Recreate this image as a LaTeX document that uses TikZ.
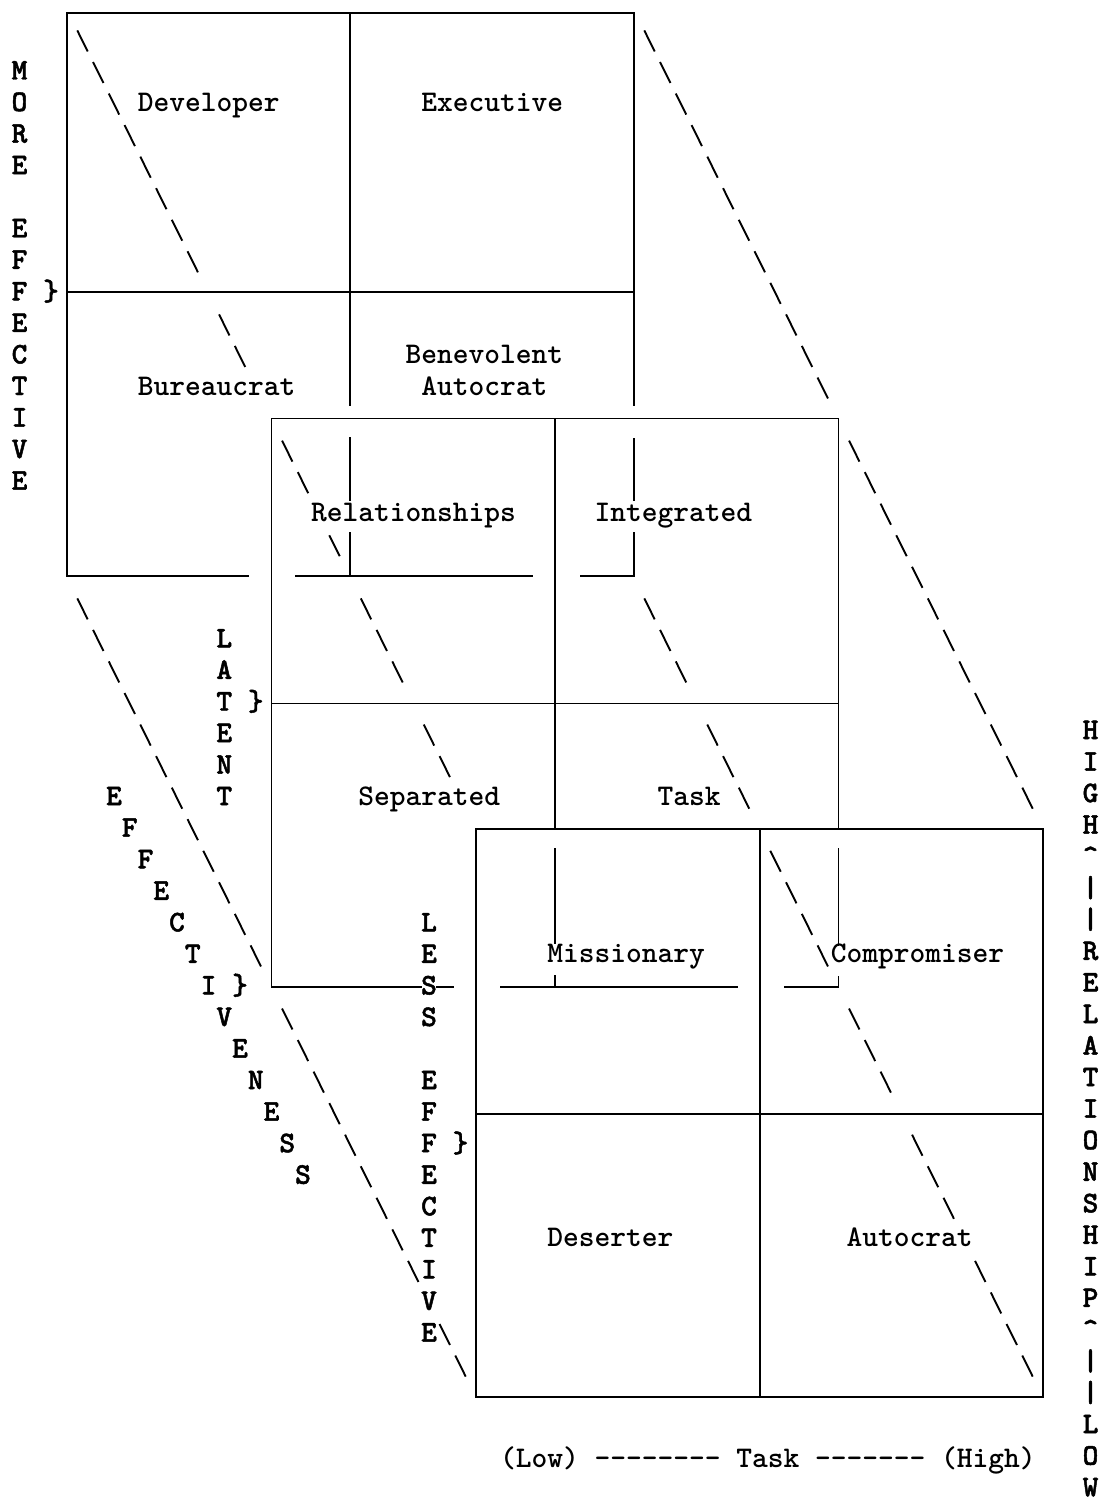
\documentclass[tikz,border=0pt]{standalone}
\usepackage{fontspec}
\newfontfamily\vfont{lmmonolt10-bold.otf}[FakeBold=1.6]
\begin{document}
\begin{tikzpicture}[x=1pt,y=-1pt,
  declare function={cx(\c)=19.5+15.75*(\c); by(\r)=79.5+31.55*(\r);},
  boxline/.style={line width=1.9pt, line cap=rect},
  bsl/.style={line width=1.9pt},
  lbl/.style={font=\fontsize{30}{36}\selectfont\ttfamily\bfseries, inner sep=0pt, anchor=base west},
  vl/.style={font=\fontsize{30}{36}\selectfont\vfont, inner sep=0pt, anchor=base},
]
\useasboundingbox (0,0) rectangle (1105,1501);
\newcommand\bs[2]{\draw[bsl] ({cx(#1)-5.2},{by(#2)-17.5}) -- ({cx(#1)+5.2},{by(#2)+3.5});}

% ---------- box 1 ----------
\coordinate (b1tl) at (66.75,13);
\coordinate (b1tr) at (633.75,13);
\draw[boxline] (b1tl) -- (b1tr);
\draw[boxline] (b1tl) -- (66.75,576) -- (248,576);
\draw[boxline] (296,576) -- (532,576);
\draw[boxline] (66.75,292) -- (633.75,292);
\draw[boxline] (350.25,13) -- (350.25,405);
\draw[boxline] (350.25,438) -- (350.25,500);
\draw[boxline] (350.25,533) -- (350.25,576);
\draw[boxline] (b1tr) -- (633.75,405);
\draw[boxline] (633.75,439) -- (633.75,500);
\draw[boxline] (633.75,533) -- (633.75,576) -- (581,576);

% ---------- box 2 ----------
\coordinate (b2tl) at (271.5,418.5);
\coordinate (b2tr) at (838.5,418.5);
\draw[boxline] (b2tl) -- (b2tr);
\draw[boxline] (b2tl) -- (271.5,987) -- (421,987);
\draw[boxline] (437,987) -- (453,987);
\draw[boxline] (501,987) -- (737,987);
\draw[boxline] (271.5,703.5) -- (838.5,703.5);
\draw[boxline] (555,418.5) -- (555,829);
\draw[boxline] (555,849) -- (555,943);
\draw[boxline] (555,976) -- (555,987);
\draw[boxline] (b2tr) -- (838.5,829);
\draw[boxline] (838.5,849) -- (838.5,945);
\draw[boxline] (838.5,977) -- (838.5,987) -- (785,987);

% ---------- box 3 ----------
\coordinate (b3tl) at (476.25,829);
\coordinate (b3br) at (1043.25,1397);
\draw[boxline] (b3tl) rectangle (b3br);
\draw[boxline] (476.25,1114) -- (1043.25,1114);
\draw[boxline] (759.75,829) -- (759.75,1397);

% ---------- dashed diagonals (typed backslashes) ----------
\foreach \r in {-1,0,1,2,3,4,5,6,8,9,12,13,15,17,18,19,21,22} {\bs{\r+5}{\r}}
\foreach \r in {-1,0,1,2,3,4,5,6,7,8,9,10,12,13,14,15,16,17,18,19,20,21,22,23} {\bs{\r+41}{\r}}
\foreach \r in {17,18,19,20,21,22,23,24,25,26,27,28,30,31,32,33,34,35,36,37,38,40,41} {\bs{\r-13}{\r}}
\foreach \r in {17,18,19,21,22,23,25,26,27,28,30,31,32,34,35,36,38,39,40,41} {\bs{\r+23}{\r}}

% ---------- quadrant labels ----------
\node[lbl] (developer) at ({cx(8)-7.875},{by(1)}) {Developer};
\node[lbl] (executive) at ({cx(26)-7.875},{by(1)}) {Executive};
\node[lbl] (bureaucrat) at ({cx(8)-7.875},{by(10)}) {Bureaucrat};
\node[lbl] (benevolent) at ({cx(25)-7.875},{by(9)}) {Benevolent};
\node[lbl] (autocrat1) at ({cx(26)-7.875},{by(10)}) {Autocrat};
\node[lbl] (relationships) at ({cx(19)-7.875},{by(14)}) {Relationships};
\node[lbl] (integrated) at ({cx(37)-7.875},{by(14)}) {Integrated};
\node[lbl] (separated) at ({cx(22)-7.875},{by(23)}) {Separated};
\node[lbl] (task) at ({cx(41)-7.875},{by(23)}) {Task};
\node[lbl] (missionary) at ({cx(34)-7.875},{by(28)}) {Missionary};
\node[lbl] (compromiser) at ({cx(52)-7.875},{by(28)}) {Compromiser};
\node[lbl] (deserter) at ({cx(34)-7.875},{by(37)}) {Deserter};
\node[lbl] (autocrat3) at ({cx(53)-7.875},{by(37)}) {Autocrat};
\node[lbl] (taskaxis) at ({cx(31)-7.875},{by(44)})
  {(Low) -\kern0pt-\kern0pt-\kern0pt-\kern0pt-\kern0pt-\kern0pt-\kern0pt- Task -\kern0pt-\kern0pt-\kern0pt-\kern0pt-\kern0pt-\kern0pt- (High)};

% ---------- vertical words ----------
\foreach \ch/\r in {M/0,O/1,R/2,E/3,E/5,F/6,F/7,E/8,C/9,T/10,I/11,V/12,E/13}
  {\node[vl] (more\r) at ({cx(0)},{by(\r)}) {\ch};}
\foreach \ch/\r in {L/18,A/19,T/20,E/21,N/22,T/23}
  {\node[vl] (latent\r) at ({cx(13)},{by(\r)}) {\ch};}
\foreach \ch [count=\i from 0] in {E,F,F,E,C,T,I,V,E,N,E,S,S}
  {\node[vl] (effness\i) at ({cx(6+\i)},{by(23+\i)}) {\ch};}
\foreach \ch/\r in {L/27,E/28,S/29,S/30,E/32,F/33,F/34,E/35,C/36,T/37,I/38,V/39,E/40}
  {\node[vl] (less\r) at ({cx(26)},{by(\r)}) {\ch};}
\foreach \ch [count=\i from 21] in {H,I,G,H,\textasciicircum,|,|,R,E,L,A,T,I,O,N,S,H,I,P,\textasciicircum,|,|,L,O,W}
  {\node[vl] (rel\i) at ({cx(68)},{by(\i)-3}) {\ch};}

% ---------- braces ----------
\node[vl] (brace1) at ({cx(2)},{by(7)}) {\}};
\node[vl] (brace2) at ({cx(15)},{by(20)}) {\}};
\node[vl] (brace3) at ({cx(14)},{by(29)}) {\}};
\node[vl] (brace4) at ({cx(28)},{by(34)}) {\}};
\end{tikzpicture}
\end{document}
